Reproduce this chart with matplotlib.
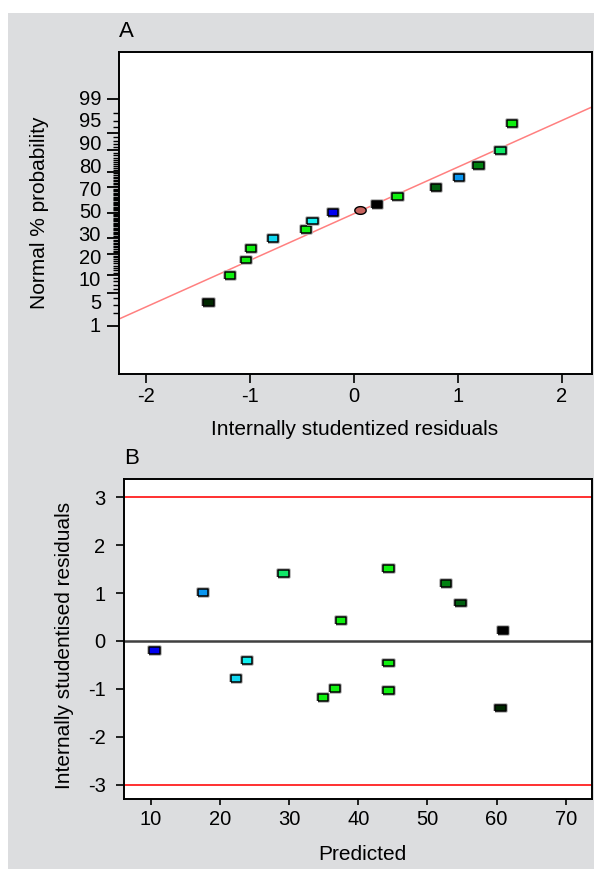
import numpy as np
import matplotlib
matplotlib.use('Agg')
import matplotlib.pyplot as plt
import matplotlib.patheffects as pe
from matplotlib.patches import Rectangle
from matplotlib.transforms import blended_transform_factory
from statistics import NormalDist

plt.rcParams['font.family'] = ['Liberation Sans', 'DejaVu Sans']
plt.rcParams['axes.unicode_minus'] = False


# data (15 runs, ordered by residual)

residuals = [-1.40, -1.19, -1.04, -0.99, -0.78, -0.46, -0.40, -0.20,
             0.22, 0.42, 0.79, 1.01, 1.20, 1.41, 1.52]
predicted = [60.6, 34.9, 44.4, 36.6, 22.3, 44.4, 23.9, 10.5,
             60.9, 37.5, 54.8, 17.5, 52.7, 29.2, 44.4]
normal_pct = [3.3, 10.0, 16.7, 23.3, 30.0, 36.7, 43.3, 50.0,
              56.7, 63.3, 70.0, 76.7, 83.3, 90.0, 96.7]
point_colors = ['#002800', '#10f010', '#10f010', '#10f010', '#10d6f0',
                '#10f010', '#10f0f0', '#0000f0', '#000000', '#10f010',
                '#006010', '#0a96f0', '#008010', '#10e868', '#10f010']

# highlighted point in the normal plot
circle_x = 0.06
circle_pct = 52.0

# reference line of the normal plot (in normal-score units)
line_slope = 0.955
line_intercept = -0.018

prob_labels = [99, 95, 90, 80, 70, 50, 30, 20, 10, 5, 1]
limit_lines = [3, -3]

nd = NormalDist()


def to_z(pct):
    return np.array([nd.inv_cdf(p / 100.0) for p in np.atleast_1d(pct)])


# marker shapes
rect_marker = [(-1, -0.65), (1, -0.65), (1, 0.65), (-1, 0.65), (-1, -0.65)]
t = np.linspace(0, 2 * np.pi, 40)
oval_marker = list(zip(np.cos(t), 0.68 * np.sin(t)))
halo = [pe.withStroke(linewidth=2.6, foreground='#b0b0b0')]

fig = plt.figure(figsize=(5.94, 8.69), dpi=100)
fig.patch.set_facecolor('white')
fig.patches.append(Rectangle((8 / 594, 0), 1, 1 - 13 / 869, transform=fig.transFigure,
                             facecolor='#dcdddf', edgecolor='none', zorder=-10))

tick_fs = 14.5
label_fs = 15


# panel A - normal probability plot

ax1 = fig.add_axes([0.2003, 0.5696, 0.7963, 0.3702])
ax1.scatter(residuals, to_z(normal_pct), marker=rect_marker, s=7.6 ** 2,
            c=point_colors, edgecolors='black', linewidths=1.1, zorder=3,
            path_effects=halo)
ax1.scatter([circle_x], to_z([circle_pct]), marker=oval_marker, s=8.2 ** 2,
            c='#c8645f', edgecolors='black', linewidths=1.0, zorder=3)
ax1.axline((0, line_intercept), slope=line_slope, color='#ff8080', lw=1.1, zorder=2)

ax1.set_xlim(-2.26, 2.29)
ax1.set_ylim(-3.303, 3.289)
ax1.set_xticks([-2, -1, 0, 1, 2])
ax1.tick_params(axis='x', length=6.5, width=1.2, pad=3, labelsize=tick_fs)

ax1.set_yticks(to_z(prob_labels))
ax1.set_yticklabels([])
ax1.set_yticks(to_z(np.arange(1, 100)), minor=True)
ax1.tick_params(axis='y', which='major', length=8.6, width=1.3)
ax1.tick_params(axis='y', which='minor', length=4.3, width=1.0)

# probability labels are spread evenly, like the original software does
trans = blended_transform_factory(ax1.transAxes, ax1.transData)
label_pos = np.linspace(to_z([99])[0], to_z([1])[0], len(prob_labels))
for lab, yp in zip(prob_labels, label_pos):
    ax1.text(-0.038, yp, str(lab), transform=trans, ha='right', va='center',
             fontsize=tick_fs)

ax1.set_ylabel('Normal % probability', fontsize=label_fs)
ax1.yaxis.set_label_coords(-0.169, 0.5)
ax1.yaxis.label.set_verticalalignment('center')
ax1.set_xlabel('Internally studentized residuals', fontsize=label_fs)
ax1.xaxis.set_label_coords(0.499, -0.174)
ax1.xaxis.label.set_verticalalignment('center')
ax1.text(0.0, 1.065, 'A', transform=ax1.transAxes, fontsize=16, ha='left', va='center')


# panel B - residuals vs predicted

ax2 = fig.add_axes([0.2093, 0.0800, 0.7873, 0.3688])
for yv in limit_lines:
    ax2.axhline(yv, color='#ff2020', lw=1.3, zorder=1)
ax2.axhline(0, color='#404040', lw=1.8, zorder=1)
ax2.scatter(predicted, residuals, marker=rect_marker, s=7.6 ** 2,
            c=point_colors, edgecolors='black', linewidths=1.1, zorder=3,
            path_effects=halo)

ax2.set_xlim(6.14, 73.8)
ax2.set_ylim(-3.31, 3.38)
ax2.set_xticks([10, 20, 30, 40, 50, 60, 70])
ax2.set_yticks([3, 2, 1, 0, -1, -2, -3])
ax2.tick_params(axis='x', length=4.5, width=1.2, pad=3, labelsize=tick_fs)
ax2.tick_params(axis='y', length=5.5, width=1.2, pad=8, labelsize=tick_fs)

ax2.set_ylabel('Internally studentised residuals', fontsize=label_fs)
ax2.yaxis.set_label_coords(-0.127, 0.482)
ax2.yaxis.label.set_verticalalignment('center')
ax2.set_xlabel('Predicted', fontsize=label_fs)
ax2.xaxis.set_label_coords(0.509, -0.173)
ax2.xaxis.label.set_verticalalignment('center')
ax2.text(0.0, 1.065, 'B', transform=ax2.transAxes, fontsize=16, ha='left', va='center')

for ax in (ax1, ax2):
    for sp in ax.spines.values():
        sp.set_linewidth(1.4)
        sp.set_color('black')

plt.savefig('out.png', dpi=100)
print("saved out.png")
